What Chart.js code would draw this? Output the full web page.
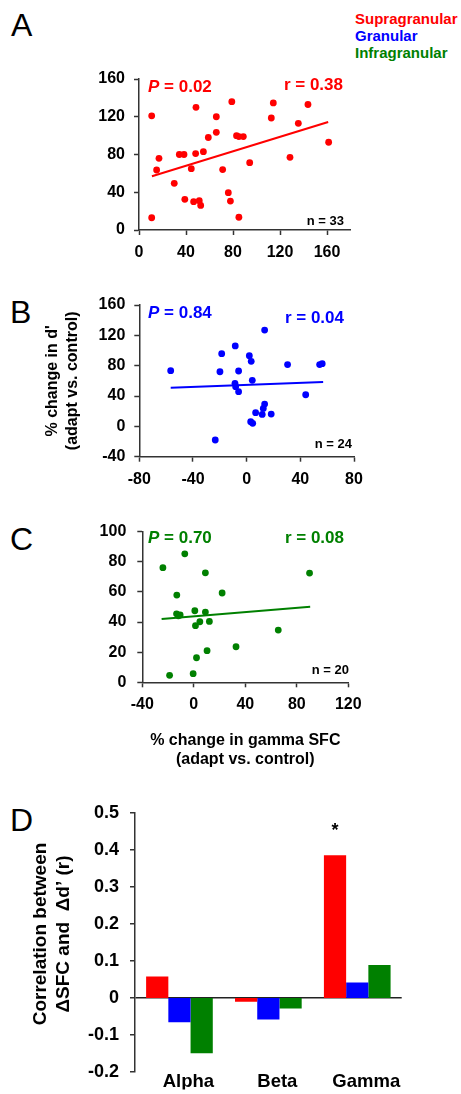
<!DOCTYPE html>
<html lang="en">
<head>
  <meta charset="UTF-8" />
  <title>SFC x d'</title>
  <script src="https://cdn.jsdelivr.net/npm/chart.js"></script>
  <style>
    body { margin: 0; background: #fff; }
    #pagina { position: relative; width: 461px; height: 1094px; font-family: "Liberation Sans", Arial, sans-serif; }
    canvas { position: absolute; left: 0; }
    .letra { position: absolute; left: 10px; font-size: 32px; line-height: 32px; color: #000; }
    .leg { position: absolute; left: 355px; font-size: 15px; line-height: 17px; font-weight: bold; }
  </style>
</head>
<body>
  <div id="pagina">
    <div class="letra" style="top:9px; left:11px;">A</div>
    <div class="letra" style="top:296px;">B</div>
    <div class="letra" style="top:523px;">C</div>
    <div class="letra" style="top:804px;">D</div>

    <div class="leg" style="top:10px; color:#ff0000;">Supragranular</div>
    <div class="leg" style="top:27px; color:#0000ff;">Granular</div>
    <div class="leg" style="top:44px; color:#008000;">Infragranular</div>

    <canvas id="chartA" width="461" height="215" style="top:60px"></canvas>
    <canvas id="chartB" width="461" height="215" style="top:280px"></canvas>
    <canvas id="chartC" width="461" height="270" style="top:510px"></canvas>
    <canvas id="chartD" width="461" height="304" style="top:790px"></canvas>
  </div>

  <script>
    // painel A - supragranular
    const xA = [10.8, 10.8, 15, 17, 30, 34.3, 38.3, 39, 44.5, 46.5, 48.5, 48.2, 51.3, 52.5, 54.8, 59, 65.8, 65.8, 71.2, 76, 77.8, 79, 83, 85, 85, 88.8, 94.2, 112.6, 114.3, 128.5, 135.6, 143.8, 161.4];
    const yA = [121, 13, 63.6, 76, 49.5, 80, 80, 32.5, 65, 30, 130, 81, 31, 26, 83, 98, 120, 103.5, 64, 39.5, 30.7, 136, 100, 13.5, 99, 99, 71.3, 118.7, 134.6, 77, 113, 133, 93];
    const ajusteAx = [11, 161];
    const ajusteAy = [57, 114.4];

    // painel B - granular
    const xB = [-56.6, -19.9, -18.6, -23.4, -8.5, -6, -8.7, -8.2, -6, 2, 3.4, 4.2, 3, 4.5, 6.7, 13.4, 13.4, 12.4, 11.6, 18.3, 30.5, 44, 54.4, 56.3];
    const yB = [73.4, 72, 95.8, -18, 106, 73, 56.7, 52.3, 45.7, 93.2, 85.8, 60.7, 6.1, 4, 18, 127, 29.4, 23.7, 15.8, 16.2, 81.4, 41.7, 81.4, 82.7];
    const ajusteBx = [-56.6, 57];
    const ajusteBy = [51, 58.5];

    // painel C - infragranular
    const xC = [-24, -7, -13.2, -13.4, -10.6, -12, -18.8, 0.8, 1.3, 4.7, 9, 9, 12.1, 2.1, -0.5, 10.3, 22, 32.8, 65.6, 89.9];
    const yC = [76.1, 85.3, 57.9, 45.5, 44.7, 44.2, 4.6, 47.5, 37.6, 40.2, 72.7, 46.6, 40.4, 16.3, 5.7, 21, 59.3, 23.6, 34.7, 72.5];
    const ajusteCx = [-25, 90.4];
    const ajusteCy = [42, 50.2];

    // painel D - correlacao por banda
    const bandas = ['Alpha', 'Beta', 'Gamma'];
    const supra = [0.058, -0.01, 0.385];
    const gran = [-0.065, -0.058, 0.042];
    const infra = [-0.149, -0.028, 0.089];

    const FONTE = '"Liberation Sans", Arial, sans-serif';
    Chart.defaults.font.family = FONTE;
    Chart.defaults.color = '#000';

    function pares(xs, ys) {
      const out = [];
      for (let i = 0; i < xs.length; i++) out.push({ x: xs[i], y: ys[i] });
      return out;
    }

    function grafico(cfg) {
      const canvas = document.getElementById(cfg.id);
      const topo = parseFloat(canvas.style.top);
      const alt = canvas.height;
      const a = cfg.area;

      const notas = {
        id: 'notas',
        afterDraw(chart) {
          const c = chart.ctx;
          const ca = chart.chartArea;
          c.save();
          c.textBaseline = 'middle';
          c.fillStyle = cfg.cor;
          c.textAlign = 'left';
          c.font = 'italic bold 17px ' + FONTE;
          const px = ca.left + cfg.pPos[0], py = ca.top + cfg.pPos[1];
          c.fillText('P', px, py);
          const w = c.measureText('P').width;
          c.font = 'bold 17px ' + FONTE;
          c.fillText(' = ' + cfg.p, px + w, py);
          c.textAlign = 'right';
          c.fillText('r = ' + cfg.r, ca.right + cfg.rPos[0], ca.top + cfg.rPos[1]);
          c.fillStyle = '#000';
          c.font = 'bold 13px ' + FONTE;
          c.fillText('n = ' + cfg.n, ca.right + cfg.nPos[0], ca.bottom + cfg.nPos[1]);
          c.restore();
        }
      };

      new Chart(canvas, {
        type: 'scatter',
        data: {
          datasets: [
            {
              data: pares(cfg.xs, cfg.ys),
              pointRadius: 3.4,
              pointBackgroundColor: cfg.cor,
              pointBorderWidth: 0
            },
            {
              data: pares(cfg.fx, cfg.fy),
              showLine: true,
              pointRadius: 0,
              borderColor: cfg.cor,
              borderWidth: 2
            }
          ]
        },
        options: {
          responsive: false,
          animation: false,
          layout: { padding: { left: 0, top: a.t - topo, right: 461 - a.r, bottom: 0 } },
          plugins: { legend: { display: false }, tooltip: { enabled: false } },
          scales: {
            x: {
              type: 'linear',
              min: cfg.xMin, max: cfg.xMax,
              afterBuildTicks: s => { s.ticks = s.ticks.filter(t => t.value <= cfg.xUlt); },
              afterFit: s => { s.height = topo + alt - a.b; },
              ticks: { stepSize: 40, includeBounds: false, font: { size: 16, weight: 'bold' }, color: '#000', padding: 8, maxRotation: 0, autoSkip: false },
              grid: { drawOnChartArea: false, tickLength: 5, tickColor: '#333', tickWidth: 1.5 },
              border: { color: '#333', width: 1.5 },
              title: cfg.tituloX ? {
                display: true, text: cfg.tituloX, color: '#000',
                font: { size: 16, weight: 'bold', lineHeight: 1.15 },
                padding: { top: 0, bottom: 11.5 }
              } : { display: false }
            },
            y: {
              min: cfg.yMin, max: cfg.yMax,
              afterFit: s => { s.width = a.l; },
              ticks: { stepSize: cfg.yPasso, font: { size: 16, weight: 'bold' }, color: '#000', padding: cfg.yPad },
              grid: { drawOnChartArea: false, tickLength: 5, tickColor: '#333', tickWidth: 1.5 },
              border: { color: '#333', width: 1.5 },
              title: cfg.tituloY ? {
                display: true, text: cfg.tituloY, color: '#000',
                font: { size: 16, weight: 'bold', lineHeight: 1.2 },
                padding: { top: 43.4, bottom: 0 }
              } : { display: false }
            }
          }
        },
        plugins: [notas]
      });
    }

    grafico({
      id: 'chartA', area: { l: 139, t: 79, r: 350.5, b: 230 },
      xs: xA, ys: yA, fx: ajusteAx, fy: ajusteAy, cor: '#ff0000',
      xMin: 0, xMax: 180, xUlt: 160, yMin: 0, yMax: 160, yPasso: 40, yPad: 9,
      p: '0.02', r: '0.38', n: 33,
      pPos: [9, 8], rPos: [-7.5, 6], nPos: [-6.5, -9]
    });

    grafico({
      id: 'chartB', area: { l: 139.3, t: 305, r: 354, b: 456.7 },
      xs: xB, ys: yB, fx: ajusteBx, fy: ajusteBy, cor: '#0000ff',
      xMin: -80, xMax: 80, xUlt: 80, yMin: -40, yMax: 160, yPasso: 40, yPad: 9,
      p: '0.84', r: '0.04', n: 24,
      pPos: [8.7, 8], rPos: [-10, 13], nPos: [-2, -12],
      tituloY: ["% change in d'", '(adapt vs. control)']
    });

    grafico({
      id: 'chartC', area: { l: 142.3, t: 531.7, r: 348.3, b: 682.3 },
      xs: xC, ys: yC, fx: ajusteCx, fy: ajusteCy, cor: '#008000',
      xMin: -40, xMax: 120, xUlt: 120, yMin: 0, yMax: 100, yPasso: 20, yPad: 11,
      p: '0.70', r: '0.08', n: 20,
      pPos: [5.7, 6.3], rPos: [-4.3, 6.3], nPos: [0.7, -12],
      tituloX: ['% change in gamma SFC', '(adapt vs. control)']
    });

    // painel D
    const extrasD = {
      id: 'extrasD',
      afterDraw(chart) {
        const c = chart.ctx;
        c.save();
        const barra = chart.getDatasetMeta(0).data[2];
        c.fillStyle = '#000';
        c.font = 'bold 18px ' + FONTE;
        c.textAlign = 'center';
        c.textBaseline = 'middle';
        c.fillText('*', barra.x, barra.y - 24);

        c.font = 'bold 19px ' + FONTE;
        const cy = 934 - 790;
        c.translate(41, cy);
        c.rotate(-Math.PI / 2);
        c.fillText('Correlation between', 0, 0);
        c.fillText('\u0394SFC and  \u0394d\u2019 (r)', 0, 23);
        c.restore();
      }
    };

    new Chart(document.getElementById('chartD'), {
      type: 'bar',
      data: {
        labels: bandas,
        datasets: [
          { label: 'Supragranular', data: supra, backgroundColor: '#ff0000' },
          { label: 'Granular', data: gran, backgroundColor: '#0000ff' },
          { label: 'Infragranular', data: infra, backgroundColor: '#008000' }
        ]
      },
      options: {
        responsive: false,
        animation: false,
        layout: { padding: { left: 0, top: 22.7, right: 59.3, bottom: 0 } },
        datasets: { bar: { categoryPercentage: 0.75, barPercentage: 1 } },
        plugins: { legend: { display: false }, tooltip: { enabled: false } },
        scales: {
          x: {
            afterFit: s => { s.height = 17.3; },
            grid: { display: false },
            border: { display: false },
            ticks: { font: { size: 18.5, weight: 'bold' }, color: '#000', padding: -9, labelOffset: 9 }
          },
          y: {
            min: -0.2, max: 0.5,
            afterFit: s => { s.width = 135; },
            ticks: {
              stepSize: 0.1, font: { size: 18, weight: 'bold' }, color: '#000', padding: 11,
              callback: v => Math.abs(v) < 1e-9 ? '0' : v.toFixed(1)
            },
            grid: {
              color: c => (c.tick && Math.abs(c.tick.value) < 1e-9) ? '#222' : 'rgba(0,0,0,0)',
              lineWidth: 1.5,
              tickColor: '#333', tickLength: 5, tickWidth: 1.5
            },
            border: { color: '#333', width: 1.5 }
          }
        }
      },
      plugins: [extrasD]
    });
  </script>
</body>
</html>
